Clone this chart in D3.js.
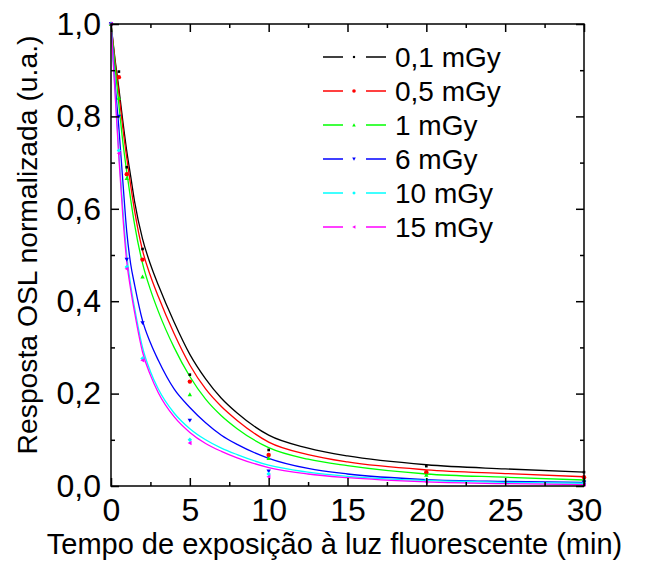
<!DOCTYPE html>
<html><head><meta charset="utf-8">
<script src="https://cdn.jsdelivr.net/npm/d3@7"></script>
<style>body{margin:0;background:#fff}svg{display:block}text{font-family:"Liberation Sans",Arial,sans-serif;fill:#000}</style>
</head><body><svg id="c" width="656" height="569"></svg>
<script>
const seriesNames = ["0,1 mGy","0,5 mGy","1 mGy","6 mGy","10 mGy","15 mGy"];
const seriesColors = ["#000000","#ff0000","#00ff00","#0000ff","#00ffff","#ff00ff"];
const seriesSymbols = ["square","circle","triUp","triDown","diamond","triLeft"];
const pointX = [0, 0.5, 1, 2, 5, 10, 20, 30];
const pts01 = [1.0, 0.897, 0.69, 0.513, 0.241, 0.078, 0.043, 0.030];
const pts05 = [1.0, 0.885, 0.675, 0.490, 0.226, 0.067, 0.030, 0.019];
const pts1  = [1.0, 0.840, 0.666, 0.453, 0.198, 0.060, 0.024, 0.013];
const pts6  = [1.0, 0.800, 0.490, 0.353, 0.142, 0.032, 0.011, 0.008];
const pts10 = [1.0, 0.726, 0.474, 0.276, 0.100, 0.026, 0.013, 0.006];
const pts15 = [1.0, 0.720, 0.470, 0.272, 0.093, 0.020, 0.009, 0.003];
const fitX = [0,0.25,0.5,0.75,1,1.25,1.5,2,2.5,3,4,5,6,7,8,10,12.5,15,20,25,30];
const fit01 = [1,0.925,0.86,0.79,0.725,0.67,0.615,0.535,0.48,0.435,0.355,0.285,0.232,0.19,0.158,0.11,0.082,0.065,0.046,0.037,0.03];
const fit05 = [1,0.92,0.85,0.775,0.71,0.65,0.595,0.51,0.455,0.41,0.33,0.262,0.21,0.172,0.142,0.095,0.068,0.052,0.035,0.027,0.02];
const fit1  = [1,0.91,0.825,0.745,0.68,0.62,0.565,0.482,0.425,0.378,0.3,0.237,0.188,0.152,0.124,0.083,0.058,0.044,0.026,0.019,0.013];
const fit6  = [1,0.875,0.775,0.66,0.55,0.48,0.435,0.358,0.31,0.272,0.21,0.17,0.137,0.11,0.09,0.06,0.038,0.026,0.014,0.01,0.008];
const fit10 = [1,0.86,0.72,0.6,0.5,0.435,0.385,0.3,0.248,0.21,0.158,0.124,0.1,0.082,0.068,0.045,0.03,0.021,0.012,0.008,0.006];
const fit15 = [1,0.855,0.71,0.585,0.485,0.425,0.375,0.29,0.24,0.202,0.15,0.116,0.092,0.075,0.061,0.04,0.026,0.018,0.009,0.005,0.003];
const xMajor = [0,5,10,15,20,25,30];
const xMinor = [2.5,7.5,12.5,17.5,22.5,27.5];
const yMajor = [0,0.2,0.4,0.6,0.8,1.0];
const yMinor = [0.1,0.3,0.5,0.7,0.9];
const xTitle = "Tempo de exposição à luz fluorescente (min)";
const yTitle = "Resposta OSL normalizada (u.a.)";

const allPts = [pts01,pts05,pts1,pts6,pts10,pts15];
const allFits = [fit01,fit05,fit1,fit6,fit10,fit15];

const svg = d3.select("#c");
const L=111,R=584,T=24,B=486;
const x = d3.scaleLinear().domain([0,30]).range([L,R]);
const y = d3.scaleLinear().domain([0,1]).range([B,T]);
const fmtY = d => d3.format(".1f")(d).replace(".",",");

function symPath(kind, s){
  const h=s;
  switch(kind){
    case "square": return `M${-h*0.6},${-h*0.6}h${h*1.2}v${h*1.2}h${-h*1.2}Z`;
    case "circle": return d3.symbol(d3.symbolCircle, h*h*3.14)();
    case "triUp": return `M0,${-h}L${h},${h*0.8}L${-h},${h*0.8}Z`;
    case "triDown": return `M0,${h}L${h},${-h*0.8}L${-h},${-h*0.8}Z`;
    case "diamond": return `M0,${-h}L${h},0L0,${h}L${-h},0Z`;
    case "triLeft": return `M${-h},0L${h*0.8},${-h}L${h*0.8},${h}Z`;
  }
}

const line = d3.line().x(d=>x(d[0])).y(d=>y(d[1])).curve(d3.curveMonotoneX);
const plot = svg.append("g");
plot.append("clipPath").attr("id","clip").append("rect").attr("x",L).attr("y",T-1).attr("width",R-L).attr("height",B-T+1);
allFits.forEach((f,i)=>{
  plot.append("path").attr("clip-path","url(#clip)")
    .attr("d", line(fitX.map((xx,j)=>[xx,f[j]])))
    .attr("fill","none").attr("stroke",seriesColors[i]).attr("stroke-width",1.3);
});
allPts.forEach((p,i)=>{
  plot.selectAll(null).data(pointX.map((xx,j)=>[xx,p[j]])).enter().append("path")
    .attr("transform",d=>`translate(${x(d[0])},${y(d[1])})`)
    .attr("d",symPath(seriesSymbols[i],2.2)).attr("fill",seriesColors[i]);
});

const axBottom = d3.axisBottom(x).tickValues(xMajor).tickSize(-8).tickPadding(12).tickFormat(d3.format("d"));
const axBottomMinor = d3.axisBottom(x).tickValues(xMinor).tickSize(-4).tickFormat("");
const axTop = d3.axisTop(x).tickValues(xMajor).tickSize(-8).tickFormat("");
const axTopMinor = d3.axisTop(x).tickValues(xMinor).tickSize(-4).tickFormat("");
const axLeft = d3.axisLeft(y).tickValues(yMajor).tickSize(-8).tickPadding(10).tickFormat(fmtY);
const axLeftMinor = d3.axisLeft(y).tickValues(yMinor).tickSize(-4).tickFormat("");
const axRight = d3.axisRight(y).tickValues(yMajor).tickSize(-8).tickFormat("");
const axRightMinor = d3.axisRight(y).tickValues(yMinor).tickSize(-4).tickFormat("");
function styleAx(g){
  g.select(".domain").remove();
  g.selectAll("line").attr("stroke","#000").attr("stroke-width",1.5);
  g.selectAll("text").attr("font-size",32).attr("font-family","Liberation Sans, Arial, sans-serif").attr("fill","#000");
}
svg.append("g").attr("transform",`translate(0,${B})`).call(axBottom).call(styleAx);
svg.append("g").attr("transform",`translate(0,${B})`).call(axBottomMinor).call(styleAx);
svg.append("g").attr("transform",`translate(0,${T})`).call(axTop).call(styleAx);
svg.append("g").attr("transform",`translate(0,${T})`).call(axTopMinor).call(styleAx);
svg.append("g").attr("transform",`translate(${L},0)`).call(axLeft).call(styleAx);
svg.append("g").attr("transform",`translate(${L},0)`).call(axLeftMinor).call(styleAx);
svg.append("g").attr("transform",`translate(${R},0)`).call(axRight).call(styleAx);
svg.append("g").attr("transform",`translate(${R},0)`).call(axRightMinor).call(styleAx);
svg.append("rect").attr("x",L).attr("y",T).attr("width",R-L).attr("height",B-T)
  .attr("fill","none").attr("stroke","#000").attr("stroke-width",1.5);

svg.append("text").attr("x",334.5).attr("y",554).attr("text-anchor","middle").attr("font-size",29).text(xTitle);
svg.append("text").attr("transform","translate(37,245) rotate(-90)").attr("text-anchor","middle").attr("font-size",28.3).text(yTitle);

const leg = svg.append("g");
seriesNames.forEach((n,i)=>{
  const yy = 57 + i*34;
  leg.append("line").attr("x1",323).attr("x2",343).attr("y1",yy).attr("y2",yy).attr("stroke",seriesColors[i]).attr("stroke-width",1.5);
  leg.append("line").attr("x1",366).attr("x2",386).attr("y1",yy).attr("y2",yy).attr("stroke",seriesColors[i]).attr("stroke-width",1.5);
  leg.append("path").attr("transform",`translate(354,${yy})`).attr("d",symPath(seriesSymbols[i],1.8)).attr("fill",seriesColors[i]);
  leg.append("text").attr("x",395).attr("y",yy).attr("dy","0.35em").attr("font-size",28).text(n);
});
</script></body></html>
